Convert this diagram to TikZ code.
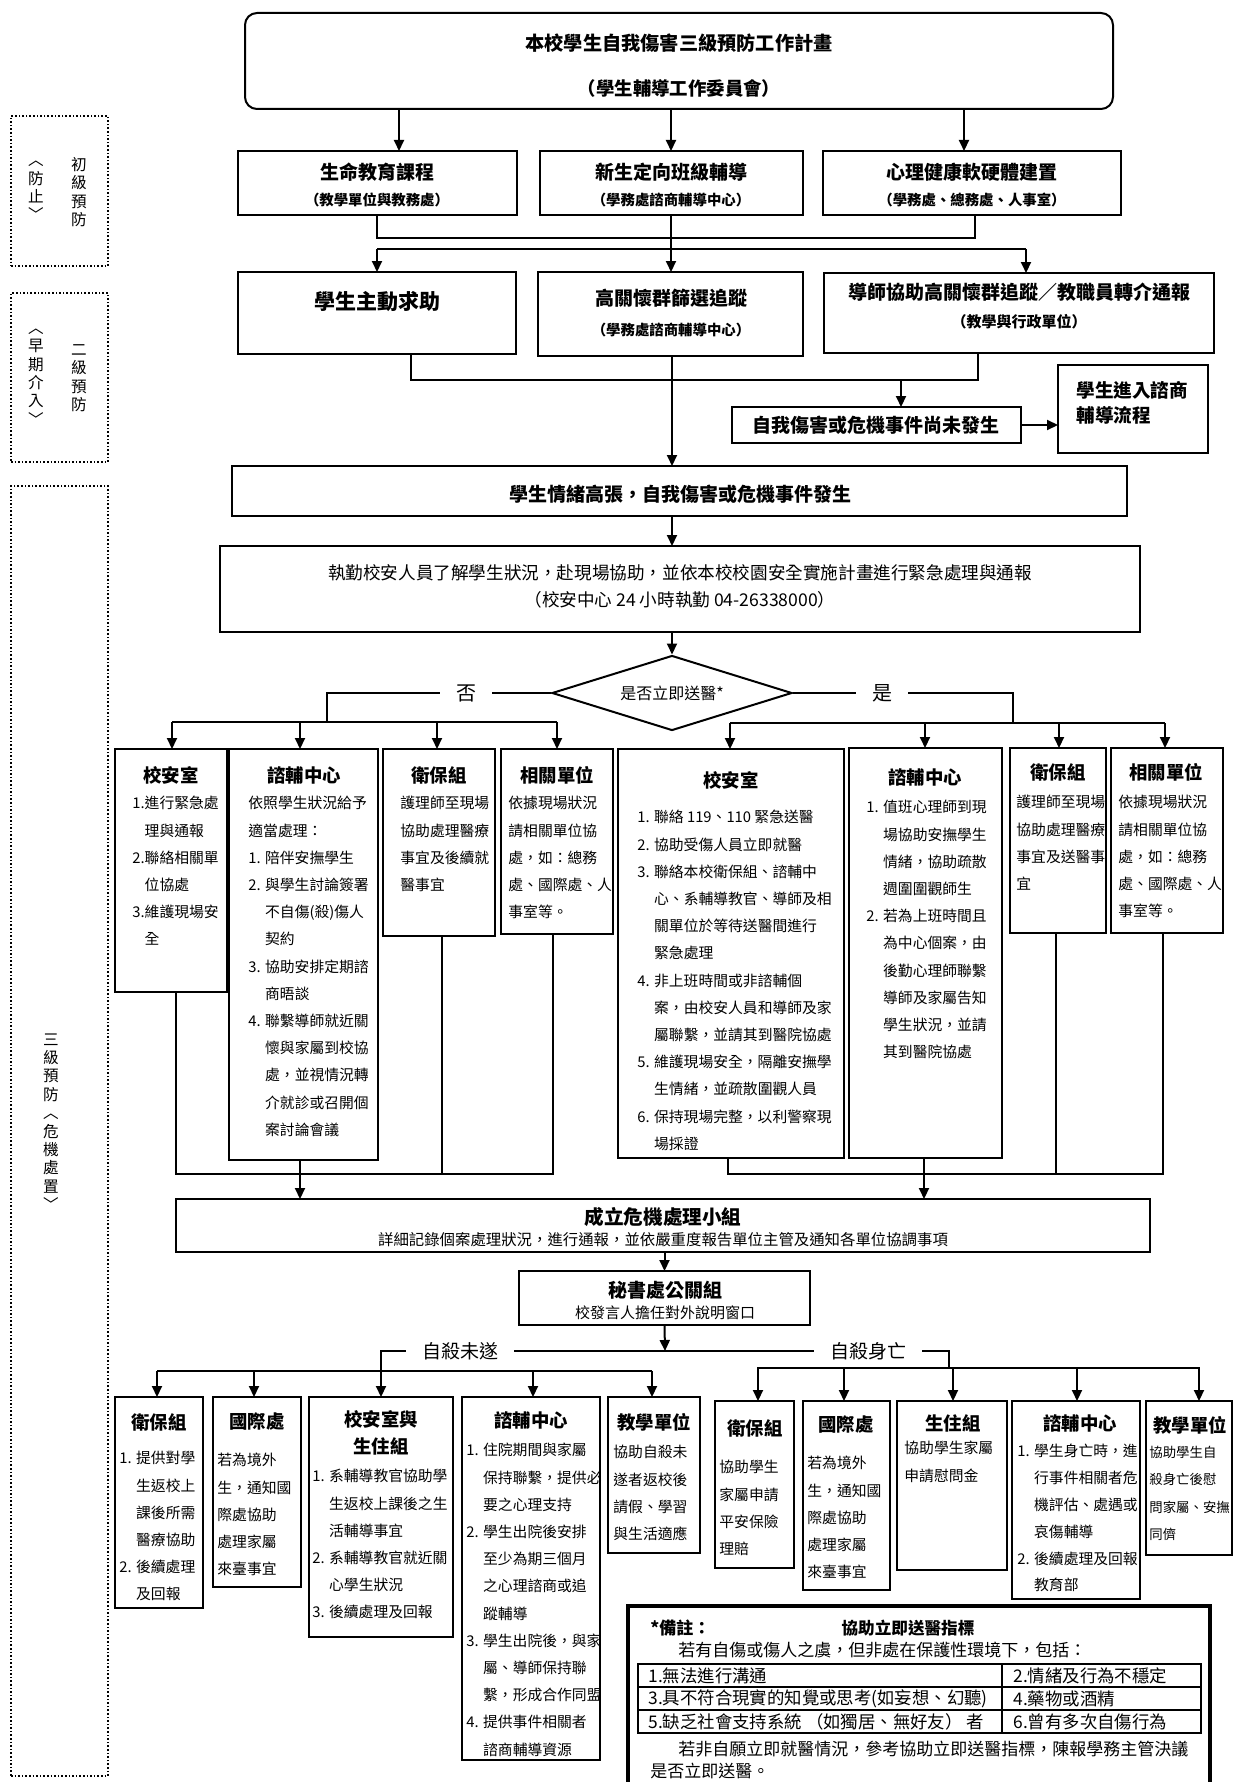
\documentclass[tikz,border=0pt]{standalone}
\usepackage{fontspec}
\setmainfont{Noto Sans CJK TC}
\usetikzlibrary{arrows.meta,fit,shapes.geometric}
\newcommand\fs[2]{\fontsize{#1}{#2}\selectfont}
\newcommand\ind{\hphantom{1. }}
\begin{document}
\begin{tikzpicture}[x=0.5pt,y=-0.5pt,
  box/.style={draw,line width=1.2pt,inner sep=0pt,outer sep=0pt},
  dbox/.style={draw,densely dotted,line width=0.8pt,inner sep=0pt,outer sep=0pt},
  ln/.style={line width=1pt},
  arr/.style={line width=1pt,-{Triangle[length=5.5pt,width=5pt]}},
  ttl/.style={inner sep=0pt,font=\fs{9.2}{11}\bfseries},
  hd/.style={inner sep=0pt,font=\fs{9.5}{11}\bfseries},
  sub/.style={inner sep=0pt,font=\fs{7.2}{9}\bfseries},
  bdy/.style={inner sep=0pt,anchor=north west,align=left,font=\fs{7.4}{13.6}},
  vt/.style={inner sep=0pt,align=center,font=\fs{7.8}{9.2}},
  lbl/.style={inner ysep=0pt,inner xsep=8pt,font=\fs{9.5}{11}},
  nt/.style={inner sep=0pt,anchor=west,font=\fs{8.5}{10}},
  tc/.style={inner sep=0pt,anchor=west,font=\fs{8.7}{10}},
]
\useasboundingbox (0,0) rectangle (1243,1782);

% ---------- left frames ----------
\node[dbox,fit={(11,116) (108,266)}] (fA) {};
\node[dbox,fit={(11,293) (108,462)}] (fB) {};
\node[dbox,fit={(11,486) (108,1776)}] (fC) {};
\node[vt] (fA1) at (79,192) {初\\級\\預\\防};
\node[vt] (fA2) at (36,191) {︿\\防\\止\\﹀};
\node[vt] (fB1) at (79,378) {二\\級\\預\\防};
\node[vt] (fB2) at (36,377) {︿\\早\\期\\介\\入\\﹀};
\node[vt] (fC1) at (51,1122) {三\\級\\預\\防\\︿\\危\\機\\處\\置\\﹀};

% ---------- top ----------
\node[box,line width=1pt,rounded corners=6pt,fit={(245,13) (1113,109)}] (top) {};
\node[hd,font=\fs{9.6}{11}\bfseries] (topa) at (679,43) {本校學生自我傷害三級預防工作計畫};
\node[hd,font=\fs{9.2}{11}\bfseries] (topb) at (679,88) {（學生輔導工作委員會）};

% ---------- row 1 ----------
\node[box,fit={(238,151) (517,215)}] (r1a) {};
\node[box,fit={(540,151) (803,215)}] (r1b) {};
\node[box,fit={(823,151) (1121,215)}] (r1c) {};
\node[hd] (r1at) at (377,172) {生命教育課程};
\node[sub] (r1as) at (377,200) {（教學單位與教務處）};
\node[hd] (r1bt) at (671,172) {新生定向班級輔導};
\node[sub] (r1bs) at (671,200) {（學務處諮商輔導中心）};
\node[hd] (r1ct) at (972,172) {心理健康軟硬體建置};
\node[sub] (r1cs) at (972,200) {（學務處、總務處、人事室）};

% ---------- row 2 ----------
\node[box,fit={(238,272) (516,354)}] (r2a) {};
\node[box,fit={(538,272) (803,356)}] (r2b) {};
\node[box,fit={(824,273) (1214,353)}] (r2c) {};
\node[hd,font=\fs{10.5}{12}\bfseries] (r2at) at (377,302) {學生主動求助};
\node[hd] (r2bt) at (671,298) {高關懷群篩選追蹤};
\node[sub] (r2bs) at (671,330) {（學務處諮商輔導中心）};
\node[hd] (r2ct) at (1019,292) {導師協助高關懷群追蹤／教職員轉介通報};
\node[sub,font=\fs{7.5}{9}\bfseries] (r2cs) at (1019,322) {（教學與行政單位）};

\node[box,fit={(732,407) (1021,443)}] (nf) {};
\node[hd] (nft) at (876,425) {自我傷害或危機事件尚未發生};
\node[box,fit={(1058,365) (1208,453)}] (cs) {};
\node[hd,anchor=north west,align=left,font=\fs{9.3}{12.5}\bfseries] (cst) at (1076,381) {學生進入諮商\\輔導流程};

\node[box,fit={(232,466) (1127,516)}] (emo) {};
\node[hd] (emot) at (680,494) {學生情緒高張，自我傷害或危機事件發生};
\node[box,fit={(220,546) (1140,632)}] (duty) {};
\node[inner sep=0pt,font=\fs{8.8}{10}] (dutya) at (680,573) {執勤校安人員了解學生狀況，赴現場協助，並依本校校園安全實施計畫進行緊急處理與通報};
\node[inner sep=0pt,font=\fs{8.8}{10}] (dutyb) at (680,600) {（校安中心 24 小時執勤 04-26338000）};

\node[draw,diamond,line width=1pt,inner sep=0pt,minimum width=120pt,minimum height=37.5pt,aspect=3.2,font=\fs{8}{10}] (dm) at (672,693) {是否立即送醫*};

% ---------- connectors top part ----------
\draw[arr] (top.south -| 399,0) -- (r1a.north -| 399,0);
\draw[arr] (top.south -| 671,0) -- (r1b.north -| 671,0);
\draw[arr] (top.south -| 964,0) -- (r1c.north -| 964,0);
\coordinate (j1) at (377,238); \coordinate (j2) at (975,238);
\draw[ln] (r1a.south -| j1) -- (j1) -- (j2) -- (r1c.south -| j2);
\coordinate (j3) at (377,249); \coordinate (j4) at (1026,249);
\draw[ln] (j3) -- (j4);
\draw[arr] (j3) -- (r2a.north -| j3);
\draw[arr] (j4) -- (r2c.north -| j4);
\draw[arr] (r1b.south -| 671,0) -- (r2b.north -| 671,0);
\coordinate (j5) at (411,380); \coordinate (j6) at (978,380); \coordinate (j7) at (901,380);
\draw[ln] (r2a.south -| j5) -- (j5) -- (j6) -- (r2c.south -| j6);
\draw[arr] (j7) -- (nf.north -| j7);
\draw[arr] (nf.east) -- (cs.west |- nf.east);
\draw[arr] (r2b.south -| 672,0) -- (emo.north -| 672,0);
\draw[arr] (emo.south -| 672,0) -- (duty.north -| 672,0);
\draw[arr] (duty.south -| dm.north) -- (dm.north);

% ---------- no / yes ----------
\node[lbl,font=\fs{10}{11}] (no) at (466,693) {否};
\node[lbl,font=\fs{10}{11}] (yes) at (882,693) {是};
\coordinate (j8) at (327,693); \coordinate (j9) at (327,722);
\draw[ln] (dm.west) -- (no.east);
\draw[ln] (no.west) -- (j8) -- (j9);
\coordinate (j10) at (172,722); \coordinate (j11) at (557,722);
\draw[ln] (j10) -- (j11);
\coordinate (j12) at (1013,693); \coordinate (j13) at (1013,723);
\draw[ln] (dm.east) -- (yes.west);
\draw[ln] (yes.east) -- (j12) -- (j13);
\coordinate (j14) at (730,723); \coordinate (j15) at (1165,723);
\draw[ln] (j14) -- (j15);

% ---------- middle boxes (no) ----------
\node[box,fit={(115,749) (227,992)}] (L1) {};
\node[box,fit={(229,749) (378,1160)}] (L2) {};
\node[box,fit={(383,749) (495,936)}] (L3) {};
\node[box,fit={(501,749) (613,934)}] (L4) {};
\node[ttl] (L1t) at (171,775) {校安室};
\node[ttl] (L2t) at (304,775) {諮輔中心};
\node[ttl] (L3t) at (439,775) {衛保組};
\node[ttl] (L4t) at (557,775) {相關單位};
\node[bdy] (L1b) at (132,796) {1.進行緊急處\\\hphantom{1.}理與通報\\2.聯絡相關單\\\hphantom{1.}位協處\\3.維護現場安\\\hphantom{1.}全};
\node[bdy] (L2b) at (248,796) {依照學生狀況給予\\適當處理：\\1. 陪伴安撫學生\\2. 與學生討論簽署\\\ind 不自傷(殺)傷人\\\ind 契約\\3. 協助安排定期諮\\\ind 商晤談\\4. 聯繫導師就近關\\\ind 懷與家屬到校協\\\ind 處，並視情況轉\\\ind 介就診或召開個\\\ind 案討論會議};
\node[bdy] (L3b) at (400,796) {護理師至現場\\協助處理醫療\\事宜及後續就\\醫事宜};
\node[bdy] (L4b) at (508,796) {依據現場狀況\\請相關單位協\\處，如：總務\\處、國際處、人\\事室等。};

% ---------- middle boxes (yes) ----------
\node[box,fit={(618,749) (844,1158)}] (R1) {};
\node[box,fit={(849,748) (1002,1158)}] (R2) {};
\node[box,fit={(1010,748) (1106,933)}] (R3) {};
\node[box,fit={(1111,748) (1223,933)}] (R4) {};
\node[ttl] (R1t) at (731,780) {校安室};
\node[ttl] (R2t) at (925,777) {諮輔中心};
\node[ttl] (R3t) at (1058,772) {衛保組};
\node[ttl] (R4t) at (1166,772) {相關單位};
\node[bdy] (R1b) at (637,810) {1. 聯絡 119、110 緊急送醫\\2. 協助受傷人員立即就醫\\3. 聯絡本校衛保組、諮輔中\\\ind 心、系輔導教官、導師及相\\\ind 關單位於等待送醫間進行\\\ind 緊急處理\\4. 非上班時間或非諮輔個\\\ind 案，由校安人員和導師及家\\\ind 屬聯繫，並請其到醫院協處\\5. 維護現場安全，隔離安撫學\\\ind 生情緒，並疏散圍觀人員\\6. 保持現場完整，以利警察現\\\ind 場採證};
\node[bdy] (R2b) at (866,800) {1. 值班心理師到現\\\ind 場協助安撫學生\\\ind 情緒，協助疏散\\\ind 週圍圍觀師生\\2. 若為上班時間且\\\ind 為中心個案，由\\\ind 後勤心理師聯繫\\\ind 導師及家屬告知\\\ind 學生狀況，並請\\\ind 其到醫院協處};
\node[bdy] (R3b) at (1016,795) {護理師至現場\\協助處理醫療\\事宜及送醫事\\宜};
\node[bdy] (R4b) at (1118,795) {依據現場狀況\\請相關單位協\\處，如：總務\\處、國際處、人\\事室等。};

\foreach \x/\n in {172/L1,300/L2,437/L3,557/L4} \draw[arr] (\x,722) -- (\n.north -| \x,0);
\foreach \x/\n in {730/R1,925/R2,1059/R3,1165/R4} \draw[arr] (\x,723) -- (\n.north -| \x,0);

% ---------- crisis team ----------
\node[box,fit={(176,1199) (1150,1252)}] (crisis) {};
\node[hd,font=\fs{9.8}{11}\bfseries] (crt) at (663,1217) {成立危機處理小組};
\node[inner sep=0pt,font=\fs{7.7}{9}] (crs) at (663,1240) {詳細記錄個案處理狀況，進行通報，並依嚴重度報告單位主管及通知各單位協調事項};
\coordinate (k1) at (176,1174); \coordinate (k2) at (553,1174); \coordinate (k3) at (442,1174);
\draw[ln] (L1.south -| k1) -- (k1) -- (k2) -- (L4.south -| k2);
\draw[ln] (L3.south -| k3) -- (k3);
\draw[arr] (L2.south -| 300,0) -- (crisis.north -| 300,0);
\coordinate (k4) at (728,1174); \coordinate (k5) at (1163,1174); \coordinate (k6) at (1056,1174);
\draw[ln] (R1.south -| k4) -- (k4) -- (k5) -- (R4.south -| k5);
\draw[ln] (R3.south -| k6) -- (k6);
\draw[arr] (R2.south -| 924,0) -- (crisis.north -| 924,0);

\node[box,fit={(519,1271) (810,1325)}] (sec) {};
\node[hd] (sect) at (665,1290) {秘書處公關組};
\node[inner sep=0pt,font=\fs{7.5}{9}] (secs) at (665,1313) {校發言人擔任對外說明窗口};
\draw[arr] (crisis.south -| sec.north) -- (sec.north);
\coordinate (m0) at (665,1351);
\draw[arr] (sec.south) -- (m0);

\node[lbl] (fail) at (460,1351) {自殺未遂};
\node[lbl] (dead) at (868,1351) {自殺身亡};
\coordinate (m1) at (381,1351); \coordinate (m2) at (381,1371);
\coordinate (m3) at (949,1351); \coordinate (m4) at (949,1368);
\draw[ln] (m2) -- (m1) -- (fail.west);
\draw[ln] (fail.east) -- (dead.west);
\draw[ln] (dead.east) -- (m3) -- (m4);
\coordinate (m5) at (157,1371); \coordinate (m6) at (652,1371);
\coordinate (m7) at (757,1368); \coordinate (m8) at (1200,1368);
\draw[ln] (m5) -- (m6);
\draw[ln] (m7) -- (m8);

% ---------- bottom boxes ----------
\node[box,fit={(115,1397) (203,1608)}] (B1) {};
\node[box,fit={(213,1397) (301,1587)}] (B2) {};
\node[box,fit={(309,1397) (453,1637)}] (B3) {};
\node[box,fit={(462,1397) (600,1760)}] (B4) {};
\node[box,fit={(608,1397) (700,1553)}] (B5) {};
\node[box,fit={(715,1401) (794,1568)}] (B6) {};
\node[box,fit={(803,1401) (890,1590)}] (B7) {};
\node[box,fit={(897,1401) (1007,1570)}] (B8) {};
\node[box,fit={(1012,1401) (1140,1599)}] (B9) {};
\node[box,fit={(1146,1401) (1232,1555)}] (B10) {};

\foreach \x/\n in {157/B1,254/B2,381/B3,533/B4,652/B5} \draw[arr] (\x,1371) -- (\n.north -| \x,0);
\foreach \x/\n in {758/B6,844/B7,953/B8,1077/B9,1199/B10} \draw[arr] (\x,1368) -- (\n.north -| \x,0);

\node[ttl] (B1t) at (159,1422) {衛保組};
\node[ttl] (B2t) at (257,1422) {國際處};
\node[ttl,align=center,font=\fs{9.2}{13.5}\bfseries] (B3t) at (381,1433) {校安室與\\生住組};
\node[ttl] (B4t) at (531,1420) {諮輔中心};
\node[ttl] (B5t) at (654,1422) {教學單位};
\node[ttl] (B6t) at (755,1428) {衛保組};
\node[ttl] (B7t) at (846,1425) {國際處};
\node[ttl] (B8t) at (953,1423) {生住組};
\node[ttl] (B9t) at (1080,1423) {諮輔中心};
\node[ttl] (B10t) at (1190,1425) {教學單位};

\node[bdy] (B1b) at (119,1451) {1. 提供對學\\\ind 生返校上\\\ind 課後所需\\\ind 醫療協助\\2. 後續處理\\\ind 及回報};
\node[bdy] (B2b) at (217,1453) {若為境外\\生，通知國\\際處協助\\處理家屬\\來臺事宜};
\node[bdy] (B3b) at (312,1469) {1. 系輔導教官協助學\\\ind 生返校上課後之生\\\ind 活輔導事宜\\2. 系輔導教官就近關\\\ind 心學生狀況\\3. 後續處理及回報};
\node[bdy] (B4b) at (466,1443) {1. 住院期間與家屬\\\ind 保持聯繫，提供必\\\ind 要之心理支持\\2. 學生出院後安排\\\ind 至少為期三個月\\\ind 之心理諮商或追\\\ind 蹤輔導\\3. 學生出院後，與家\\\ind 屬、導師保持聯\\\ind 繫，形成合作同盟\\4. 提供事件相關者\\\ind 諮商輔導資源};
\node[bdy] (B5b) at (613,1445) {協助自殺未\\遂者返校後\\請假、學習\\與生活適應};
\node[bdy] (B6b) at (719,1460) {協助學生\\家屬申請\\平安保險\\理賠};
\node[bdy] (B7b) at (807,1456) {若為境外\\生，通知國\\際處協助\\處理家屬\\來臺事宜};
\node[bdy] (B8b) at (904,1441) {協助學生家屬\\申請慰問金};
\node[bdy,font=\fs{7.4}{13.4}] (B9b) at (1017,1444) {1. 學生身亡時，進\\\ind 行事件相關者危\\\ind 機評估、處遇或\\\ind 哀傷輔導\\2. 後續處理及回報\\\ind 教育部};
\node[bdy,font=\fs{6.7}{13.6}] (B10b) at (1149,1446) {協助學生自\\殺身亡後慰\\問家屬、安撫\\同儕};

% ---------- note ----------
\node[draw,line width=2pt,inner sep=0pt,outer sep=0pt,fit={(628,1606) (1210,1792)}] (note) {};
\node[nt,font=\fs{8.5}{10}\bfseries] (n1) at (650,1628) {*備註：};
\node[inner sep=0pt,font=\fs{8.3}{10}\bfseries] (n2) at (908,1628) {協助立即送醫指標};
\node[nt] (n3) at (678,1650) {若有自傷或傷人之虞，但非處在保護性環境下，包括：};
\node[draw,line width=0.9pt,inner sep=0pt,outer sep=0pt,fit={(638,1664) (1201,1733)}] (tab) {};
\draw[line width=0.9pt] (tab.west |- 0,1687) -- (tab.east |- 0,1687);
\draw[line width=0.9pt] (tab.west |- 0,1710) -- (tab.east |- 0,1710);
\draw[line width=0.9pt] (tab.north -| 1002,0) -- (tab.south -| 1002,0);
\node[tc] (c1) at (648,1676) {1.無法進行溝通};
\node[tc] (c2) at (1013,1676) {2.情緒及行為不穩定};
\node[tc] (c3) at (648,1699) {3.具不符合現實的知覺或思考(如妄想、幻聽)};
\node[tc] (c4) at (1013,1699) {4.藥物或酒精};
\node[tc] (c5) at (648,1722) {5.缺乏社會支持系統 （如獨居、無好友） 者};
\node[tc] (c6) at (1013,1722) {6.曾有多次自傷行為};
\node[nt] (n4) at (678,1749) {若非自願立即就醫情況，參考協助立即送醫指標，陳報學務主管決議};
\node[nt] (n5) at (650,1771) {是否立即送醫。};
\end{tikzpicture}
\end{document}
